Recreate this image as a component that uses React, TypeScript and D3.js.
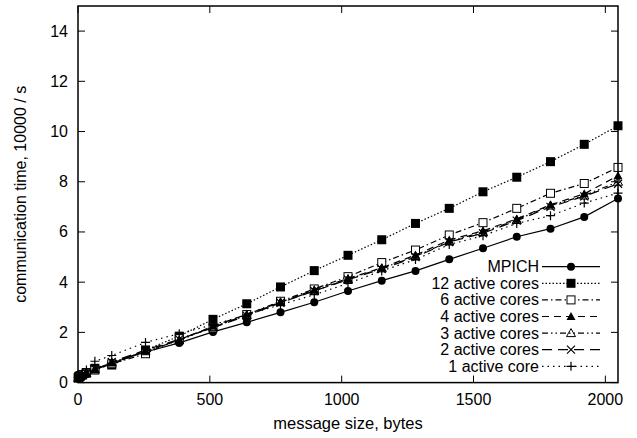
import React from "react";
import * as d3 from "d3";

// message sizes, bytes
const sizes = [1, 2, 4, 8, 16, 32, 64, 128, 256, 384, 512, 640, 768, 896, 1024, 1152, 1280, 1408, 1536, 1664, 1792, 1920, 2048];

// communication time, 10000 / s
const mpich = [0.15, 0.16, 0.17, 0.2, 0.25, 0.33, 0.5, 0.78, 1.22, 1.58, 2.02, 2.4, 2.8, 3.2, 3.65, 4.06, 4.45, 4.91, 5.35, 5.81, 6.13, 6.6, 7.33];
const cores12 = [0.2, 0.22, 0.25, 0.28, 0.32, 0.4, 0.57, 0.7, 1.3, 1.85, 2.52, 3.14, 3.81, 4.46, 5.07, 5.69, 6.34, 6.94, 7.6, 8.18, 8.8, 9.49, 10.23];
const cores6 = [0.18, 0.2, 0.22, 0.25, 0.3, 0.38, 0.5, 0.75, 1.15, 1.75, 2.18, 2.71, 3.24, 3.73, 4.22, 4.78, 5.28, 5.88, 6.37, 6.94, 7.54, 7.93, 8.57];
const cores4 = [0.18, 0.2, 0.22, 0.25, 0.3, 0.38, 0.52, 0.8, 1.25, 1.7, 2.25, 2.72, 3.2, 3.7, 4.15, 4.57, 5.08, 5.68, 6.05, 6.52, 7.08, 7.52, 8.24];
const cores3 = [0.18, 0.2, 0.22, 0.25, 0.3, 0.38, 0.52, 0.8, 1.25, 1.68, 2.22, 2.68, 3.2, 3.66, 4.12, 4.55, 5.03, 5.62, 6.0, 6.48, 7.05, 7.45, 8.0];
const cores2 = [0.18, 0.2, 0.22, 0.25, 0.3, 0.38, 0.55, 0.82, 1.3, 1.72, 2.2, 2.66, 3.18, 3.65, 4.1, 4.52, 5.0, 5.6, 5.95, 6.45, 7.0, 7.42, 7.92];
const cores1 = [0.2, 0.22, 0.25, 0.3, 0.38, 0.5, 0.85, 1.08, 1.6, 1.95, 2.3, 2.7, 3.1, 3.5, 3.95, 4.45, 4.9, 5.5, 5.85, 6.34, 6.65, 7.15, 7.55];

const seriesNames = ["MPICH", "12 active cores", "6 active cores", "4 active cores", "3 active cores", "2 active cores", "1 active core"];
const seriesValues = [mpich, cores12, cores6, cores4, cores3, cores2, cores1];
const seriesMarkers = ["circle", "square", "openSquare", "triangle", "openTriangle", "cross", "plus"];
const seriesDash = [null, "1.5,2", "6,3,1.5,3", "7,5", "6,3,1.5,3,1.5,3", "10,6", "1.5,4"];

const xTicks = [0, 500, 1000, 1500, 2000];
const yTicks = [0, 2, 4, 6, 8, 10, 12, 14];

const W = 637, H = 438;
const left = 78, right = 618, top = 6, bottom = 382.6;
const font = "'Liberation Sans', Arial, Helvetica, sans-serif";

function Marker({ kind, x, y }: { kind: string; x: number; y: number }) {
  switch (kind) {
    case "circle":
      return <circle cx={x} cy={y} r={4} fill="#000" />;
    case "square":
      return <rect x={x - 4.5} y={y - 4.5} width={9} height={9} fill="#000" />;
    case "openSquare":
      return <rect x={x - 4} y={y - 4} width={8} height={8} fill="#fff" stroke="#000" strokeWidth={1} />;
    case "triangle":
      return <path d={`M${x},${y - 4.5}L${x + 4.5},${y + 3.5}L${x - 4.5},${y + 3.5}Z`} fill="#000" />;
    case "openTriangle":
      return <path d={`M${x},${y - 4.5}L${x + 4.5},${y + 3.5}L${x - 4.5},${y + 3.5}Z`} fill="none" stroke="#000" strokeWidth={1} />;
    case "cross":
      return <path d={`M${x - 4},${y - 4}L${x + 4},${y + 4}M${x - 4},${y + 4}L${x + 4},${y - 4}`} stroke="#000" strokeWidth={1.2} />;
    default:
      return <path d={`M${x - 4.5},${y}L${x + 4.5},${y}M${x},${y - 4.5}L${x},${y + 4.5}`} stroke="#000" strokeWidth={1.2} />;
  }
}

export default function App() {
  const x = d3.scaleLinear().domain([0, 2048]).range([left, right]);
  const y = d3.scaleLinear().domain([0, 15]).range([bottom, top]);
  const line = d3.line<number>().x((_, i) => x(sizes[i])).y((d) => y(d));

  const legendX0 = 542, legendX1 = 600, legendMarker = 571, legendY0 = 266.7, legendStep = 16.6;
  const tickLen = 7;

  return (
    <svg width={W} height={H} style={{ position: "absolute", left: 0, top: 0, background: "#fff" }} fontFamily={font}>
      <rect width={W} height={H} fill="#fff" />
      {/* ticks, mirrored on all sides */}
      {xTicks.map((t) => (
        <g key={"x" + t}>
          <line x1={x(t)} x2={x(t)} y1={bottom} y2={bottom - tickLen} stroke="#000" strokeWidth={1} />
          <line x1={x(t)} x2={x(t)} y1={top} y2={top + tickLen} stroke="#000" strokeWidth={1} />
          <text x={x(t)} y={bottom + 22.5} textAnchor="middle" fontSize={16}>{t}</text>
        </g>
      ))}
      {yTicks.map((t) => (
        <g key={"y" + t}>
          <line x1={left} x2={left + tickLen} y1={y(t)} y2={y(t)} stroke="#000" strokeWidth={1} />
          <line x1={right} x2={right - tickLen} y1={y(t)} y2={y(t)} stroke="#000" strokeWidth={1} />
          <text x={left - 10} y={y(t) + 5.5} textAnchor="end" fontSize={16}>{t}</text>
        </g>
      ))}

      {/* series */}
      {seriesValues.map((vals, s) => (
        <g key={seriesNames[s]}>
          <path d={line(vals) || ""} fill="none" stroke="#000" strokeWidth={1.2}
            strokeDasharray={seriesDash[s] || undefined} />
          {vals.map((v, i) => (
            <Marker key={i} kind={seriesMarkers[s]} x={x(sizes[i])} y={y(v)} />
          ))}
        </g>
      ))}

      {/* legend */}
      {seriesNames.map((name, s) => {
        const ly = legendY0 + s * legendStep;
        return (
          <g key={"l" + s}>
            <text x={539} y={ly + 5.5} textAnchor="end" fontSize={16}>{name}</text>
            <line x1={legendX0} x2={legendX1} y1={ly} y2={ly} stroke="#000" strokeWidth={1.2}
              strokeDasharray={seriesDash[s] || undefined} />
            <Marker kind={seriesMarkers[s]} x={legendMarker} y={ly} />
          </g>
        );
      })}

      <rect x={left} y={top} width={right - left} height={bottom - top} fill="none" stroke="#000" strokeWidth={1.5} />

      <text x={(left + right) / 2} y={428.5} textAnchor="middle" fontSize={16.5}>message size, bytes</text>
      <text transform={`translate(26,${(top + bottom) / 2}) rotate(-90)`} textAnchor="middle" fontSize={16}>
        communication time, 10000 / s
      </text>
    </svg>
  );
}
